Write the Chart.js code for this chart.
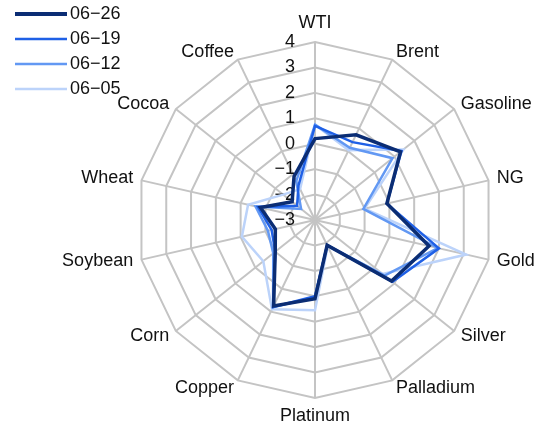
<!DOCTYPE html>
<html>
<head>
<meta charset="utf-8">
<script src="https://cdn.jsdelivr.net/npm/chart.js@4.4.0/dist/chart.umd.min.js"></script>
<style>
  html, body { margin: 0; padding: 0; background: #fff; }
  #wrap { width: 540px; height: 428px; }
</style>
</head>
<body>
<div id="wrap"><canvas id="radar" width="540" height="428"></canvas></div>
<script>
(function () {
    "use strict";

    // data
    const labels = ["WTI", "Brent", "Gasoline", "NG", "Gold", "Silver", "Palladium",
        "Platinum", "Copper", "Corn", "Soybean", "Wheat", "Cocoa", "Coffee"];
    const weeks = ["06-26", "06-19", "06-12", "06-05"];
    const w0626 = [0.2, 0.72, 1.3, -0.1, 1.6, 0.85, -1.9, 0.1, 0.75, -1.0, -1.4, -0.8, -1.85, -1.1];
    const w0619 = [0.7, 0.4, 1.35, -0.1, 2.0, 0.9, -1.9, 0.0, 0.8, -1.0, -1.25, -0.7, -2.1, -1.5];
    const w0612 = [0.75, 0.15, 0.9, -1.05, 1.95, 0.5, -1.9, 0.05, 0.8, -0.9, -1.1, -0.6, -2.3, -1.3];
    const w0605 = [0.75, 0.05, 1.45, -1.0, 3.1, 0.4, -1.85, 0.55, 0.9, -0.4, -0.05, -0.3, -1.4, -1.65];
    const tickValues = [-3, -2, -1, 0, 1, 2, 3, 4];

    const series = [w0626, w0619, w0612, w0605];
    const colors = ["#0b2d74", "#1f60e6", "#6298f3", "#bcd3fa"];
    const widths = [3.5, 2.5, 2.5, 2.5];
    const fontFamily = "'Liberation Sans', Arial, sans-serif";
    const fontSize = 18;

    function fmt(v) {
        return v < 0 ? "\u2212" + Math.abs(v) : String(v);
    }

    // tick labels left of the first spoke
    const tickText = {
        id: "tickText",
        beforeDatasetsDraw(chart) {
            const r = chart.scales.r;
            const ctx = chart.ctx;
            ctx.save();
            ctx.font = fontSize + "px " + fontFamily;
            ctx.fillStyle = "#111";
            ctx.textAlign = "right";
            ctx.textBaseline = "middle";
            tickValues.forEach(function (v) {
                const d = r.getDistanceFromCenterForValue(v);
                ctx.fillText(fmt(v), r.xCenter - 20, r.yCenter - d);
            });
            ctx.restore();
        },
    };

    // category names, centred on the spoke ends
    const spokeLabels = {
        id: "spokeLabels",
        afterDraw(chart) {
            const r = chart.scales.r;
            const ctx = chart.ctx;
            ctx.save();
            ctx.font = fontSize + "px " + fontFamily;
            ctx.fillStyle = "#111";
            chart.data.labels.forEach(function (text, i) {
                const a = r.getIndexAngle(i);
                const s = Math.sin(a);
                const c = Math.cos(a);
                let p;
                let dy = 0;
                if (Math.abs(s) < 0.01) {
                    p = r.getPointPosition(i, r.drawingArea + 10);
                    ctx.textAlign = "center";
                    ctx.textBaseline = c > 0 ? "bottom" : "top";
                    dy = c > 0 ? 0 : -1;
                } else {
                    p = r.getPointPosition(i, r.drawingArea + 8.5);
                    ctx.textAlign = s > 0 ? "left" : "right";
                    ctx.textBaseline = "middle";
                }
                ctx.fillText(text, p.x, p.y + dy);
            });
            ctx.restore();
        },
    };

    // legend in the top left corner
    const cornerLegend = {
        id: "cornerLegend",
        afterDraw(chart) {
            const ctx = chart.ctx;
            ctx.save();
            ctx.font = fontSize + "px " + fontFamily;
            ctx.textBaseline = "middle";
            chart.data.datasets.forEach(function (ds, i) {
                const y = 14 + i * 25;
                ctx.strokeStyle = ds.borderColor;
                ctx.lineWidth = i === 0 ? 4 : 2.5;
                ctx.beginPath();
                ctx.moveTo(15, y);
                ctx.lineTo(67, y);
                ctx.stroke();
                ctx.fillStyle = "#111";
                ctx.fillText(ds.label.replace("-", "\u2212"), 70, y);
            });
            ctx.restore();
        },
    };

    const ctx = document.getElementById("radar").getContext("2d");
    new Chart(ctx, {
        type: "radar",
        data: {
            labels: labels,
            datasets: weeks.map(function (w, i) {
                return {
                    label: w,
                    data: series[i],
                    borderColor: colors[i],
                    backgroundColor: "transparent",
                    borderWidth: widths[i],
                    pointRadius: 0,
                    pointHoverRadius: 0,
                    fill: false,
                    tension: 0,
                };
            }),
        },
        options: {
            responsive: false,
            animation: false,
            layout: {
                padding: { top: 42, bottom: 30, left: 137, right: 47 },
            },
            plugins: {
                legend: { display: false },
                tooltip: { enabled: false },
            },
            scales: {
                r: {
                    min: -3,
                    max: 4,
                    ticks: { display: false, stepSize: 1 },
                    grid: { color: "#c4c4c4", lineWidth: 2 },
                    angleLines: { color: "#c4c4c4", lineWidth: 2 },
                    pointLabels: { display: false },
                },
            },
        },
        plugins: [tickText, spokeLabels, cornerLegend],
    });
})();
</script>
</body>
</html>
